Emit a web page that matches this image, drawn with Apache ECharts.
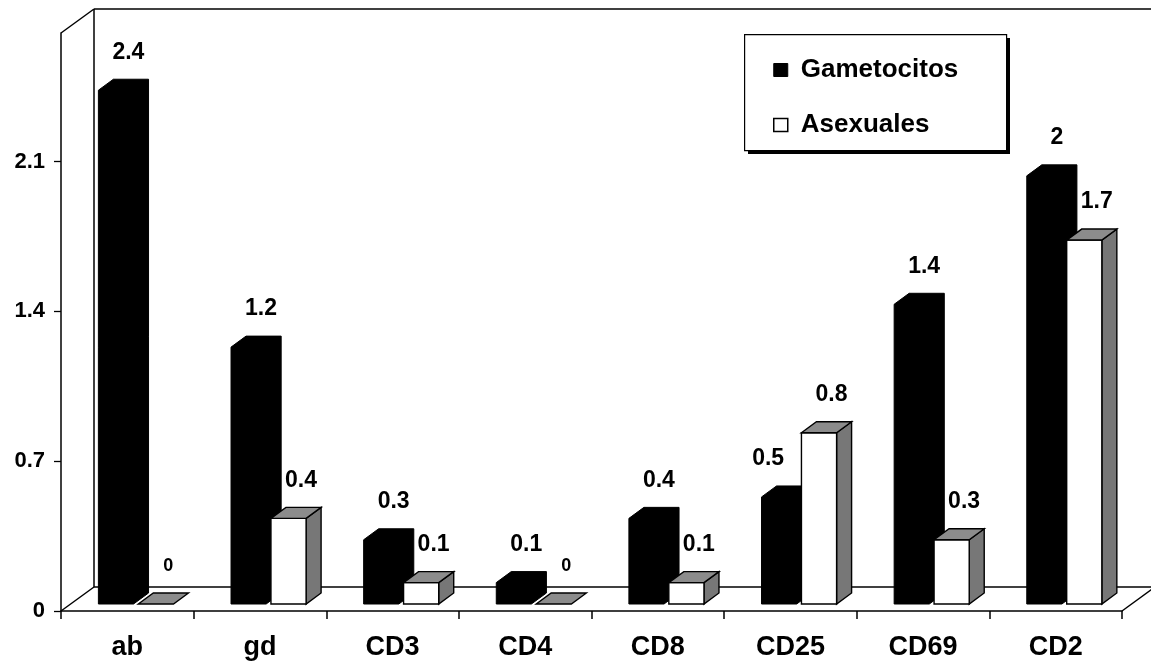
<!DOCTYPE html>
<html><head><meta charset="utf-8">
<script src="https://cdn.jsdelivr.net/npm/echarts@6/dist/echarts.min.js"></script>
<style>html,body{margin:0;padding:0;background:#fff}#c{width:1151px;height:665px}</style>
</head><body><div id="c"></div>
<script>
const categories = ['ab', 'gd', 'CD3', 'CD4', 'CD8', 'CD25', 'CD69', 'CD2'];
const gametocitos = [2.4, 1.2, 0.3, 0.1, 0.4, 0.5, 1.4, 2.0];
const asexuales = [0, 0.4, 0.1, 0, 0.1, 0.8, 0.3, 1.7];
const yTicks = [0, 0.7, 1.4, 2.1];
const seriesNames = ['Gametocitos', 'Asexuales'];
const seriesValues = [gametocitos, asexuales];

const FONT = '"Liberation Sans", Arial, sans-serif';
const DEPTH_X = 15, DEPTH_Y = 11;   // bar depth projection
const BACK_X = 33, BACK_Y = 24;     // wall depth projection
const LIFT = 7;                      // bar base sits inside the floor

function geom(kind, i, v, api) {
  const top = api.coord([i, v]);
  const base = api.coord([i, 0]);
  const W = api.size([1, 0])[0];
  const bw = W * 0.265;
  const x0 = kind === 0 ? top[0] - W * 0.218 : top[0] + W * 0.083;
  return { x0: x0, x1: x0 + bw, bw: bw, yb: base[1] - LIFT, yt: top[1] - LIFT };
}

function barItem(kind) {
  return function (params, api) {
    const i = api.value(0), v = api.value(1);
    const g = geom(kind, i, v, api);
    const x0 = g.x0, x1 = g.x1, yb = g.yb, yt = g.yt, bw = g.bw;
    const dx = DEPTH_X, dy = DEPTH_Y;
    const children = [];
    if (kind === 0) {
      children.push({
        type: 'polygon',
        shape: { points: [[x0, yb], [x0, yt], [x0 + dx, yt - dy], [x1 + dx, yt - dy], [x1 + dx, yb - dy], [x1, yb]] },
        style: { fill: '#000', stroke: '#000', lineWidth: 1 }
      });
    } else {
      if (yb - yt > 0.5) {
        children.push({
          type: 'polygon',
          shape: { points: [[x1, yb], [x1, yt], [x1 + dx, yt - dy], [x1 + dx, yb - dy]] },
          style: { fill: '#777', stroke: '#000', lineWidth: 1.4 }
        });
        children.push({
          type: 'rect',
          shape: { x: x0, y: yt, width: bw, height: yb - yt },
          style: { fill: '#fff', stroke: '#000', lineWidth: 1.4 }
        });
      }
      children.push({
        type: 'polygon',
        shape: { points: [[x0, yt], [x1, yt], [x1 + dx, yt - dy], [x0 + dx, yt - dy]] },
        style: { fill: '#8c8c8c', stroke: '#000', lineWidth: 1.4 }
      });
    }
    return { type: 'group', children: children };
  };
}

function labelItem(kind) {
  return function (params, api) {
    const i = api.value(0), v = api.value(1);
    const g = geom(kind, i, v, api);
    const size = v === 0 ? 18 : 23;
    const txt = String(v);
    const half = txt.length * size * 0.28;
    let cx = g.x0 + 30;
    const cy = g.yt - 38;
    if (kind === 0) {
      const ov = seriesValues[1][i];
      const w = geom(1, i, ov, api);
      if (cx + half > w.x0 && cy + size / 2 > w.yt - DEPTH_Y) {
        cx = w.x0 - 14 - half;
      }
    }
    return {
      type: 'text',
      style: {
        text: txt, x: cx, y: cy,
        align: 'center', verticalAlign: 'middle',
        font: 'bold ' + size + 'px ' + FONT, fill: '#000'
      }
    };
  };
}

function frameItem(params, api) {
  const cs = params.coordSys;
  const L = cs.x, T = cs.y, R = cs.x + cs.width, B = cs.y + cs.height;
  const bx = BACK_X, by = BACK_Y;
  const ls = { stroke: '#000', lineWidth: 1.5 };
  const line = (a, b, c, d) => ({ type: 'line', shape: { x1: a, y1: b, x2: c, y2: d }, style: ls });
  return {
    type: 'group',
    children: [
      line(L, T, L + bx, T - by),
      line(L, B, L + bx, B - by),
      line(R, B, R + bx, B - by),
      line(L + bx, T - by, L + bx, B - by),
      line(L + bx, T - by, R + bx + 10, T - by),
      line(L + bx, B - by, R + bx, B - by)
    ]
  };
}

const chart = echarts.init(document.getElementById('c'), null, { renderer: 'canvas' });
chart.setOption({
  animation: false,
  backgroundColor: '#fff',
  grid: { left: 61, right: 29, top: 33, bottom: 54, containLabel: false, outerBoundsMode: 'none' },
  graphic: [
    { type: 'rect', z: 5, left: 748, top: 38, shape: { width: 262, height: 116 }, style: { fill: '#000' } },
    { type: 'rect', z: 6, left: 744, top: 34, shape: { width: 262, height: 116 }, style: { fill: '#fff', stroke: '#000', lineWidth: 1.2 } }
  ],
  legend: {
    z: 10,
    orient: 'vertical', left: 744, top: 34,
    selectedMode: false,
    data: [
      { name: seriesNames[0], icon: 'rect', itemStyle: { color: '#000', borderColor: '#000', borderWidth: 1 } },
      { name: seriesNames[1], icon: 'rect', itemStyle: { color: '#fff', borderColor: '#000', borderWidth: 1.5 } }
    ],
    itemWidth: 14, itemHeight: 13, itemGap: 29,
    padding: [23, 44, 12, 29],
    backgroundColor: 'transparent', borderWidth: 0,
    textStyle: { fontFamily: FONT, fontWeight: 'bold', fontSize: 26, color: '#000', padding: [0, 0, 0, 8] }
  },
  xAxis: {
    type: 'category', data: categories,
    axisLine: { show: true, lineStyle: { color: '#000', width: 1.5 } },
    axisTick: { show: true, length: 8, lineStyle: { color: '#000', width: 1.5 } },
    axisLabel: { margin: 23, color: '#000', fontFamily: FONT, fontWeight: 'bold', fontSize: 27 },
    splitLine: { show: false }
  },
  yAxis: {
    type: 'value', min: 0, max: 2.7,
    axisLine: { show: true, lineStyle: { color: '#000', width: 1.5 } },
    axisTick: { show: true, length: 7, customValues: yTicks, lineStyle: { color: '#000', width: 1.3 } },
    axisLabel: { customValues: yTicks, margin: 16, color: '#000', fontFamily: FONT, fontWeight: 'bold', fontSize: 22 },
    splitLine: { show: false }
  },
  series: [
    { type: 'custom', name: 'frame', silent: true, renderItem: frameItem, data: [[0, 0]], z: 1 },
    { type: 'custom', name: seriesNames[0], itemStyle: { color: '#000' }, renderItem: barItem(0),
      data: gametocitos.map((v, i) => [i, v]), encode: { x: 0, y: 1 }, z: 2 },
    { type: 'custom', name: seriesNames[1], itemStyle: { color: '#fff', borderColor: '#000' }, renderItem: barItem(1),
      data: asexuales.map((v, i) => [i, v]), encode: { x: 0, y: 1 }, z: 3 },
    { type: 'custom', name: 'labels0', silent: true, renderItem: labelItem(0),
      data: gametocitos.map((v, i) => [i, v]), encode: { x: 0, y: 1 }, z: 4 },
    { type: 'custom', name: 'labels1', silent: true, renderItem: labelItem(1),
      data: asexuales.map((v, i) => [i, v]), encode: { x: 0, y: 1 }, z: 4 }
  ]
});
</script>
</body></html>
